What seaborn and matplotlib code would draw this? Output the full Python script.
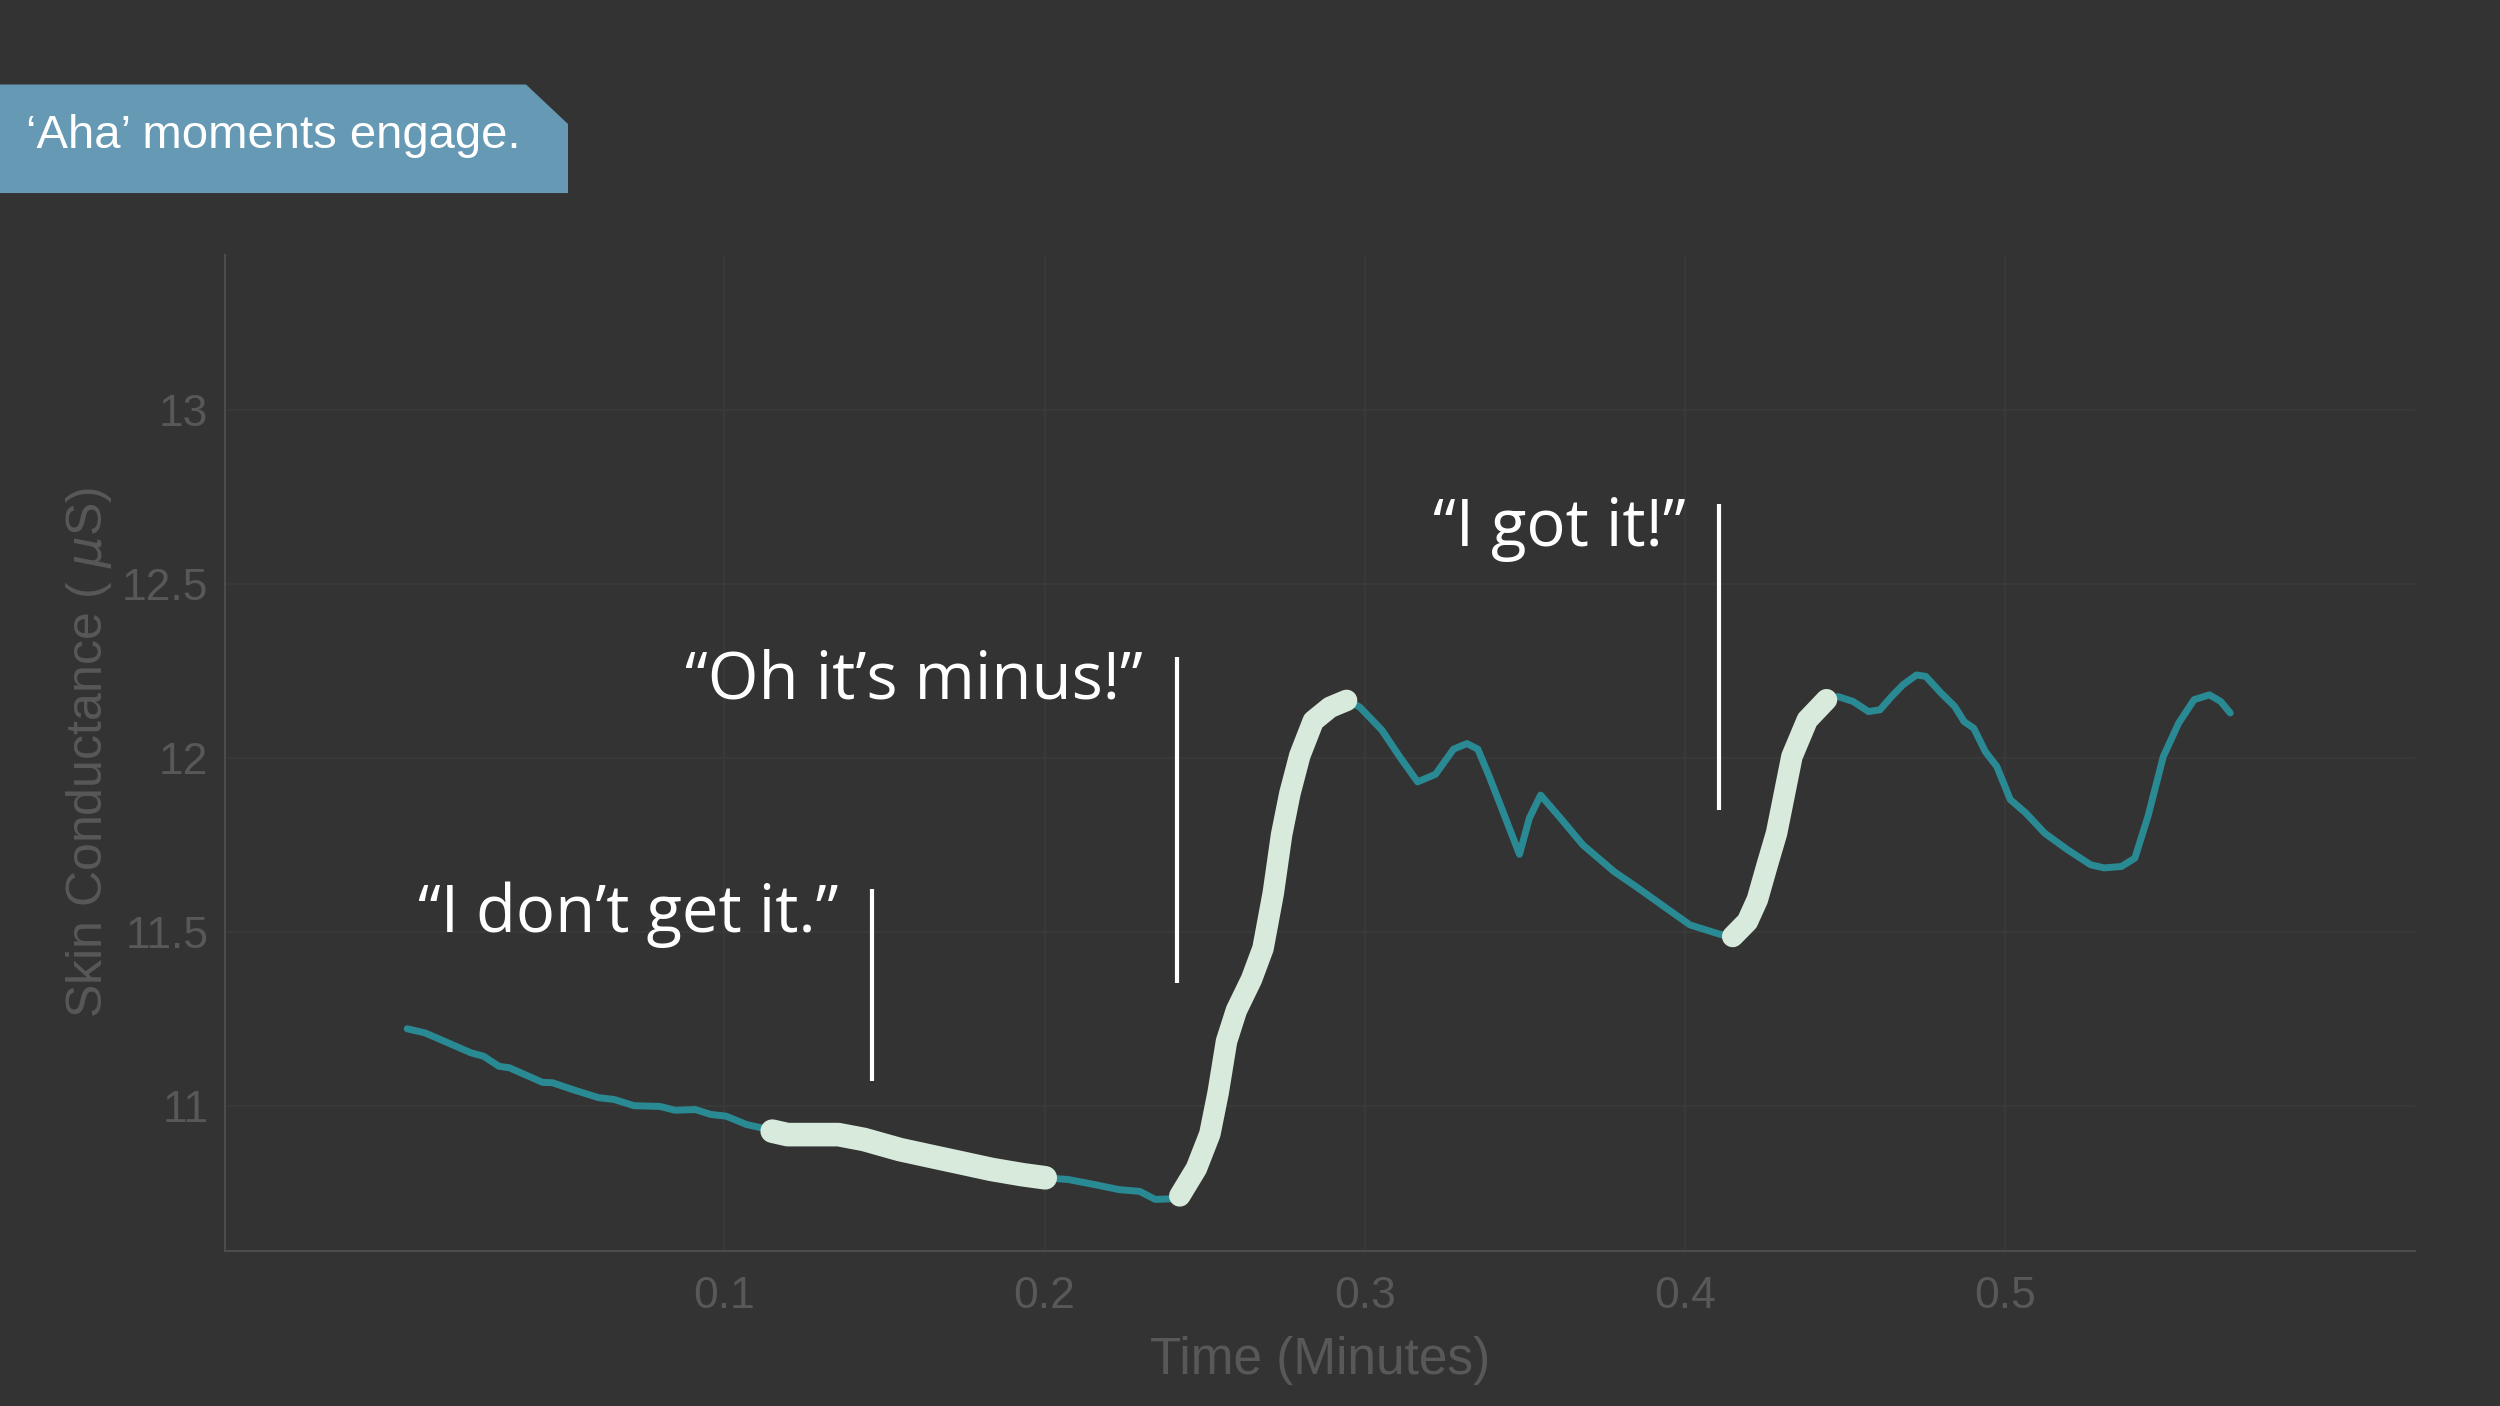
import pandas as pd
import seaborn as sns
import matplotlib.pyplot as plt
from matplotlib.patches import Polygon

# Skin conductance trace
time_min = [0.0009, 0.0065, 0.0113, 0.0208, 0.0248, 0.0296, 0.0328, 0.0432, 0.0463, 0.0527,
            0.0607, 0.0655, 0.0718, 0.0798, 0.0846, 0.0909, 0.0957, 0.1005, 0.1069, 0.1117,
            0.1149, 0.1197, 0.1356, 0.1436, 0.1548, 0.1643, 0.1739, 0.1834, 0.193, 0.2002,
            0.2074, 0.2153, 0.2233, 0.2297, 0.2345, 0.2408,
            0.2422, 0.2474, 0.2516, 0.2542, 0.2568, 0.2599, 0.2646, 0.2682, 0.2714, 0.274,
            0.2766, 0.2797, 0.2839, 0.2891, 0.2943,
            0.2984, 0.3053, 0.3109, 0.3165, 0.3221, 0.3277, 0.3319, 0.3353, 0.3388, 0.343,
            0.3483, 0.3514, 0.3549, 0.3611, 0.3681, 0.3779, 0.3849, 0.3933, 0.4016, 0.4114,
            0.4149, 0.4195, 0.4226, 0.4256, 0.4286, 0.4334, 0.4382, 0.4442,
            0.4478, 0.4525, 0.4573, 0.4609, 0.4645, 0.4681, 0.4723, 0.4752, 0.48, 0.4842,
            0.4872, 0.4902, 0.4938, 0.4974, 0.5016, 0.5064, 0.5123, 0.5195, 0.5267, 0.5309,
            0.5363, 0.5405, 0.5446, 0.5494, 0.5542, 0.559, 0.5638, 0.5673, 0.5703]
conductance = [11.222, 11.21, 11.191, 11.153, 11.143, 11.114, 11.11, 11.068, 11.067, 11.047,
               11.024, 11.019, 11.001, 10.999, 10.988, 10.99, 10.976, 10.971, 10.947, 10.937,
               10.928, 10.918, 10.918, 10.904, 10.875, 10.856, 10.837, 10.818, 10.803, 10.794,
               10.789, 10.775, 10.76, 10.755, 10.732, 10.734,
               10.742, 10.821, 10.92, 11.039, 11.186, 11.275, 11.364, 11.453, 11.611, 11.779,
               11.898, 12.007, 12.106, 12.145, 12.165,
               12.146, 12.08, 12.003, 11.931, 11.953, 12.025, 12.041, 12.025, 11.948, 11.849,
               11.723, 11.827, 11.893, 11.827, 11.75, 11.673, 11.629, 11.574, 11.52, 11.492,
               11.487, 11.53, 11.593, 11.69, 11.784, 12.004, 12.109, 12.167,
               12.176, 12.162, 12.133, 12.138, 12.176, 12.21, 12.238, 12.234, 12.186, 12.148,
               12.104, 12.085, 12.018, 11.975, 11.88, 11.842, 11.784, 11.736, 11.693, 11.684,
               11.688, 11.712, 11.832, 12.004, 12.1, 12.167, 12.181, 12.162, 12.129]

# highlighted windows (minutes)
highlights = [(0.1149, 0.2002), (0.2422, 0.2943), (0.4149, 0.4442)]

# quotes: text, time of marker line, line bottom, line top
quotes = ["\u201cI don\u2019t get it.\u201d", "\u201cOh it\u2019s minus!\u201d", "\u201cI got it!\u201d"]
quote_t = [0.146, 0.2412, 0.4106]
quote_lo = [11.073, 11.352, 11.851]
quote_hi = [11.622, 12.29, 12.73]

x_ticks = [0.1, 0.2, 0.3, 0.4, 0.5]
y_ticks = [11, 11.5, 12, 12.5, 13]

bg = "#333333"
faint = "#585858"
teal = "#2a8a94"
mint = "#d8eadc"

sns.set_theme(style="dark", rc={
    "figure.facecolor": bg,
    "axes.facecolor": bg,
    "axes.edgecolor": "#4a4a4a",
    "grid.color": "#393939",
})
plt.rcParams["font.family"] = ["Liberation Sans", "DejaVu Sans"]

df = pd.DataFrame({"time": time_min, "sc": conductance})

fig = plt.figure(figsize=(25, 14.06), dpi=100)
ax = fig.add_axes([0.09, 0.1103, 0.876, 0.7083])

sns.lineplot(data=df, x="time", y="sc", ax=ax, color=teal, linewidth=5,
             sort=False, estimator=None, solid_capstyle="round",
             solid_joinstyle="round")

for i, (t0, t1) in enumerate(highlights):
    seg = df[(df["time"] >= t0) & (df["time"] <= t1)]
    sns.lineplot(data=seg, x="time", y="sc", ax=ax, color=mint,
                 linewidth=17 if i == 0 else 15.5, sort=False, estimator=None,
                 solid_capstyle="round", solid_joinstyle="round")

for txt, t, lo, hi in zip(quotes, quote_t, quote_lo, quote_hi):
    ax.vlines(t, lo, hi, color="white", linewidth=3)
    ax.text(t - 0.0105, hi - 0.072, txt, ha="right", va="center", color="white",
            fontsize=47, family=["Open Sans", "DejaVu Sans"])

ax.set_xlim(-0.056, 0.628)
ax.set_ylim(10.584, 13.444)
ax.set_xticks(x_ticks)
ax.set_xticklabels([f"{v:g}" for v in x_ticks])
ax.set_yticks(y_ticks)
ax.set_yticklabels([f"{v:g}" for v in y_ticks])
ax.tick_params(axis="both", length=0, labelsize=32, labelcolor=faint)
ax.tick_params(axis="x", pad=18)
ax.tick_params(axis="y", pad=12)
ax.grid(True, color="#393939", linewidth=1.5)

ax.set_xlabel("Time (Minutes)", fontsize=37, color=faint, labelpad=14)
ax.set_ylabel("Skin Conductance ( $\\mu$S)", fontsize=36, color=faint, labelpad=6)

for side in ["top", "right"]:
    ax.spines[side].set_visible(False)
for side in ["left", "bottom"]:
    ax.spines[side].set_color("#4c4c4c")
    ax.spines[side].set_linewidth(1.5)

# title tab
box = Polygon([(0, 0.9399), (0.2104, 0.9399), (0.2272, 0.9118),
               (0.2272, 0.8627), (0, 0.8627)],
              closed=True, transform=fig.transFigure, facecolor="#6699b4",
              edgecolor="none")
fig.patches.append(box)
fig.text(0.0102, 0.9036, "\u2018Aha\u2019 moments engage.", color="white",
         fontsize=34, va="center", ha="left")

plt.savefig("out.png", dpi=100, facecolor=bg)
